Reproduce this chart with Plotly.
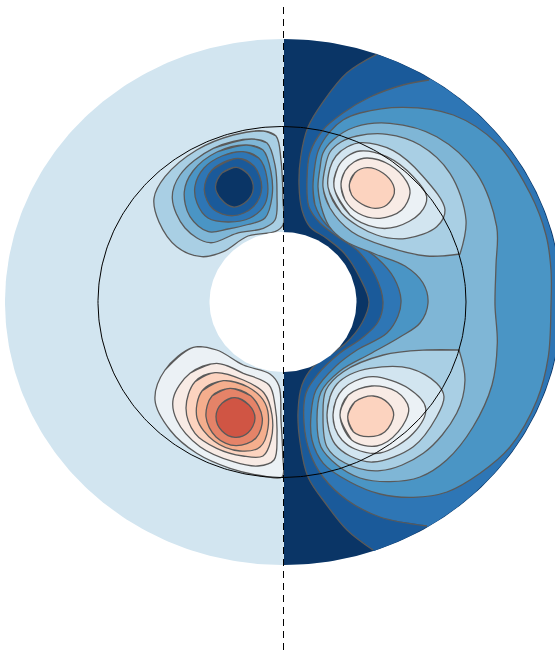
import numpy as np
import plotly.graph_objects as go

# ellipse sizes of the shell
cx, cy = 283, 302
outer_a, outer_b = 278, 263
inner_a, inner_b = 73.5, 70
tc_a, tc_b = 184, 175.5

# RdBu style levels, dark blue to red
navy = '#0a3566'
blue1 = '#1a5a9a'
blue2 = '#2e76b5'
blue3 = '#4a95c5'
blue4 = '#7fb6d6'
blue5 = '#a9cfe4'
blue6 = '#d2e5f0'
white1 = '#ebf1f5'
pink1 = '#f8ebe5'
pink2 = '#fcd3bf'
pink3 = '#f5ae8d'
pink4 = '#e58368'
red1 = '#d05544'
edge = '#5a5a5a'

# left half, upper cell
L1 = [(263.3,131),(276,136),(281,160),(283,200),(283,225),(275,231.7),(248,236),(223.3,251.7),(201.7,256.7),(176.7,246.7),(159,222),(154,198.3),(165,176.7),(196.7,150),(233.3,135)]
L2 = [(251.7,139),(267,143),(275,165),(277,195),(275,220),(263.3,228.3),(236.7,233.3),(210,242.7),(185,228),(172.3,198.3),(180,175),(213.3,148.3)]
L3 = [(246.7,145),(263,150),(271,172),(272,197),(265,218),(248,224.5),(228,229),(208.3,231.7),(190,216.7),(184.3,191.7),(193,171),(217,152)]
L4 = [(243,151.7),(259,158.3),(267,178),(265,204),(250,218),(228,222),(208,218),(197,203),(195,186),(204,168),(222,156)]
L5 = [(238,158.3),(254,166),(261.7,188),(253,207),(233.3,215.7),(213,209),(204.3,190),(212,170)]
L6 = [(236.7,167.3),(248,174),(253.3,188.3),(247,201),(233.3,207),(221,199),(215.5,186.7),(222,173)]

# left half, lower cell
B1 = [(193.3,347.3),(216.7,350),(243.3,365),(270,374),(279,386),(281,420),(282.7,455),(282,477),(263.3,476),(230,468.3),(196.7,453.3),(170,430),(155,400),(165,370)]
B2 = [(216.7,363.3),(243.3,373.3),(269,385),(275,405),(277,435),(274,460),(258,466),(233.3,461.7),(200,446.7),(176.7,420),(173.3,398.3),(190,373.3)]
B3 = [(215,372.7),(243.3,380),(264,393),(272,415),(271,440),(263,456),(243,456),(216.7,448.3),(195,433.3),(186,408.3),(195,381.7)]
B4 = [(223.3,380.7),(248,387),(265,403),(268,428),(260,447),(240,451),(214,441),(197,418),(202,391)]
B5 = [(230,388.3),(251,396),(262.3,418),(256,438),(236,445.7),(216,437),(206,416.7),(212,396)]
B6 = [(235,397.7),(249,405),(255,418.3),(248.3,432.5),(235,437.3),(222,431),(216,416.7),(222,403.3)]

# right half, open contours that end on the outer boundary
C1 = [(376.7,54.3),(346.7,73),(323,102),(308,127),(300.7,157),(299,185),(302,210),(310,227),(326,238),(344,253),(360,278),(369,302),(362,323),(346,343),(328,356),(313,367),(302,385),(298,412),(300,442),(308,477),(326,504),(347,530),(373,550)]
C2 = [(429,80),(403,85),(370,97),(343,113),(323,130),(310,153),(307,180),(309,207),(320,223),(338,237),(358,251),(375,275),(383,302),(378,322),(362,338),(340,353),(318,374),(306,393),(304,423),(310,453),(323,477),(347,500),(380,517),(427,526)]

# right half, closed contours
C3 = [(313,187),(315,165),(318.5,150),(330,131.7),(343,120),(360,113),(403.3,107.3),(453.3,115),(496.7,143.3),(530,193.3),(546,235),(551,270),(551,305),(548.3,356.7),(537,400),(510,447),(480,473.3),(447,492),(413.3,497.3),(380,494),(350,482),(323.3,463.3),(312,440),(311,415),(316,390),(336,366),(357,350),(386.7,333.3),(398,316),(401,300),(394,278),(377,258),(350,240),(326.7,225),(315,205)]
C4 = [(318,187),(320,168),(323,153),(333,140),(355,127),(390,123.3),(436.7,136.7),(476.7,173.3),(496.7,226.7),(496,265),(495,305),(497.3,343.3),(492,385),(473,427),(446.7,460),(420,477),(390,481.7),(360,478),(337,465),(321,447),(317,420),(321,392),(340,371),(370,354),(400,337),(420,323),(428,303),(423,283),(405,266),(375,254),(345,241),(329,226),(321,206)]
C5_top = [(323,187),(325,168),(330,152),(341,142),(357,136),(387,134.3),(420,145),(450,173.3),(466,220),(460,254),(460,254),(426.7,256),(386.7,246.7),(351.7,231.7),(330,208)]
C5_bot = [(459,350),(459,350),(465,380),(456.7,413.3),(423.3,453.3),(380,470.7),(345,463),(327,447),(323,415),(326,390),(343.3,371.7),(383.3,355),(426.7,350)]
C6_top = [(328,187),(330,168),(336,156),(347,147),(362,142.7),(393.3,150.7),(423.3,176.7),(445,210),(436.7,226.7),(406.7,238.3),(376.7,235),(341.7,213.3)]
C7_top = [(334,187),(338,167),(347,156.5),(360,151),(386.7,156.7),(413.3,176.7),(426.7,196.7),(420,213.3),(396.7,226.7),(376.7,227.7),(350,215)]
C8_top = [(341,184),(345,171),(354,162),(367,158),(390,165),(406.7,181.7),(410,193.3),(401.7,210),(380,218.3),(358.3,213.3),(345,200)]
C9_top = [(349.3,185),(355,172.7),(367.3,167.7),(383.3,173.3),(393.3,185),(394.3,193.3),(386.7,205),(375,208.3),(361.7,204),(351.7,195)]
C6_bot = [(327,415),(330,397),(337,384),(350,374.5),(370,368.3),(410,368.3),(436.7,383.3),(444,396.7),(436.7,416.7),(413.3,446.7),(373,462),(350,456),(335,444),(329,430)]
C7_bot = [(333,415),(336,400),(343,389),(355,381),(373.3,376.7),(408.3,388.3),(425.7,408.3),(413.3,433.3),(380,453),(355,449),(342,440),(335,428)]
C8_bot = [(340,415),(348.3,395),(371.7,386),(396.7,391.7),(408.7,408.3),(398.3,431.7),(376.7,446),(351.7,440)]
C9_bot = [(347.7,416.7),(355,401.7),(373.3,396),(388.3,403.3),(393.7,415),(385,431.7),(368.3,436.7),(353.3,431.7)]


def ell_arc(a, b, t0, t1, n=120):
    t = np.radians(np.linspace(t0, t1, n))
    return cx + a*np.cos(t), cy + b*np.sin(t)


def t_of(pt):
    return np.degrees(np.arctan2((pt[1]-cy)/outer_b, (pt[0]-cx)/outer_a))


def add_fill(fig, xs, ys, color):
    fig.add_trace(go.Scatter(x=xs, y=ys, mode='lines', fill='toself', fillcolor=color,
                             line=dict(width=0, color=color), hoverinfo='skip'))


def add_closed(fig, pts, color):
    pts = pts[-1:] + pts + pts[:2]
    xs, ys = zip(*pts)
    fig.add_trace(go.Scatter(x=xs, y=ys, mode='lines', fill='toself', fillcolor=color,
                             line=dict(width=1.3, color=edge, shape='spline', smoothing=1, simplify=False), hoverinfo='skip'))


def add_open(fig, pts, color):
    xs, ys = zip(*pts)
    ax, ay = ell_arc(outer_a, outer_b, t_of(pts[-1]), t_of(pts[0]))
    # fill uses the smoothed contour too, the arc part has dense points anyway
    fig.add_trace(go.Scatter(x=list(xs)+list(ax), y=list(ys)+list(ay), mode='lines', fill='toself', fillcolor=color,
                             line=dict(width=0, color=color, shape='spline', smoothing=1, simplify=False), hoverinfo='skip'))
    fig.add_trace(go.Scatter(x=xs, y=ys, mode='lines',
                             line=dict(width=1.3, color=edge, shape='spline', smoothing=1, simplify=False), hoverinfo='skip'))


fig = go.Figure()

# background shell, left half colour
x0, y0 = ell_arc(outer_a, outer_b, 0, 360, 360)
add_fill(fig, x0, y0, blue6)

for pts, col in [(L1, blue5), (L2, blue4), (L3, blue3), (L4, blue2), (L5, blue1), (L6, navy),
                 (B1, white1), (B2, pink1), (B3, pink2), (B4, pink3), (B5, pink4), (B6, red1)]:
    add_closed(fig, pts, col)

# right half
xr, yr = ell_arc(outer_a, outer_b, -90, 90, 180)
add_fill(fig, xr+1, yr, navy)
add_open(fig, C1, blue1)
add_open(fig, C2, blue2)
for pts, col in [(C3, blue3), (C4, blue4), (C5_top, blue5), (C5_bot, blue5),
                 (C6_top, blue6), (C6_bot, blue6), (C7_top, white1), (C7_bot, white1),
                 (C8_top, pink1), (C8_bot, pink1), (C9_top, pink2), (C9_bot, pink2)]:
    add_closed(fig, pts, col)

# inner core
xi, yi = ell_arc(inner_a, inner_b, 0, 360, 240)
add_fill(fig, xi, yi, 'white')

# tangent cylinder and axis
xt, yt = ell_arc(tc_a, tc_b, 0, 360, 360)
fig.add_trace(go.Scatter(x=xt-1, y=yt, mode='lines', line=dict(width=1, color='black'), hoverinfo='skip'))
fig.add_trace(go.Scatter(x=[cx+0.5, cx+0.5], y=[7, 653], mode='lines',
                         line=dict(width=1, color='black', dash='7px,5px'), hoverinfo='skip'))

fig.update_layout(
    width=555, height=657,
    margin=dict(l=0, r=0, t=0, b=0),
    showlegend=False,
    paper_bgcolor='white', plot_bgcolor='white',
    xaxis=dict(range=[0, 555], visible=False, fixedrange=True),
    yaxis=dict(range=[657, 0], visible=False, fixedrange=True),
)
fig.write_html("out.html", post_script="document.body.style.margin='0';", config=dict(displayModeBar=False))
